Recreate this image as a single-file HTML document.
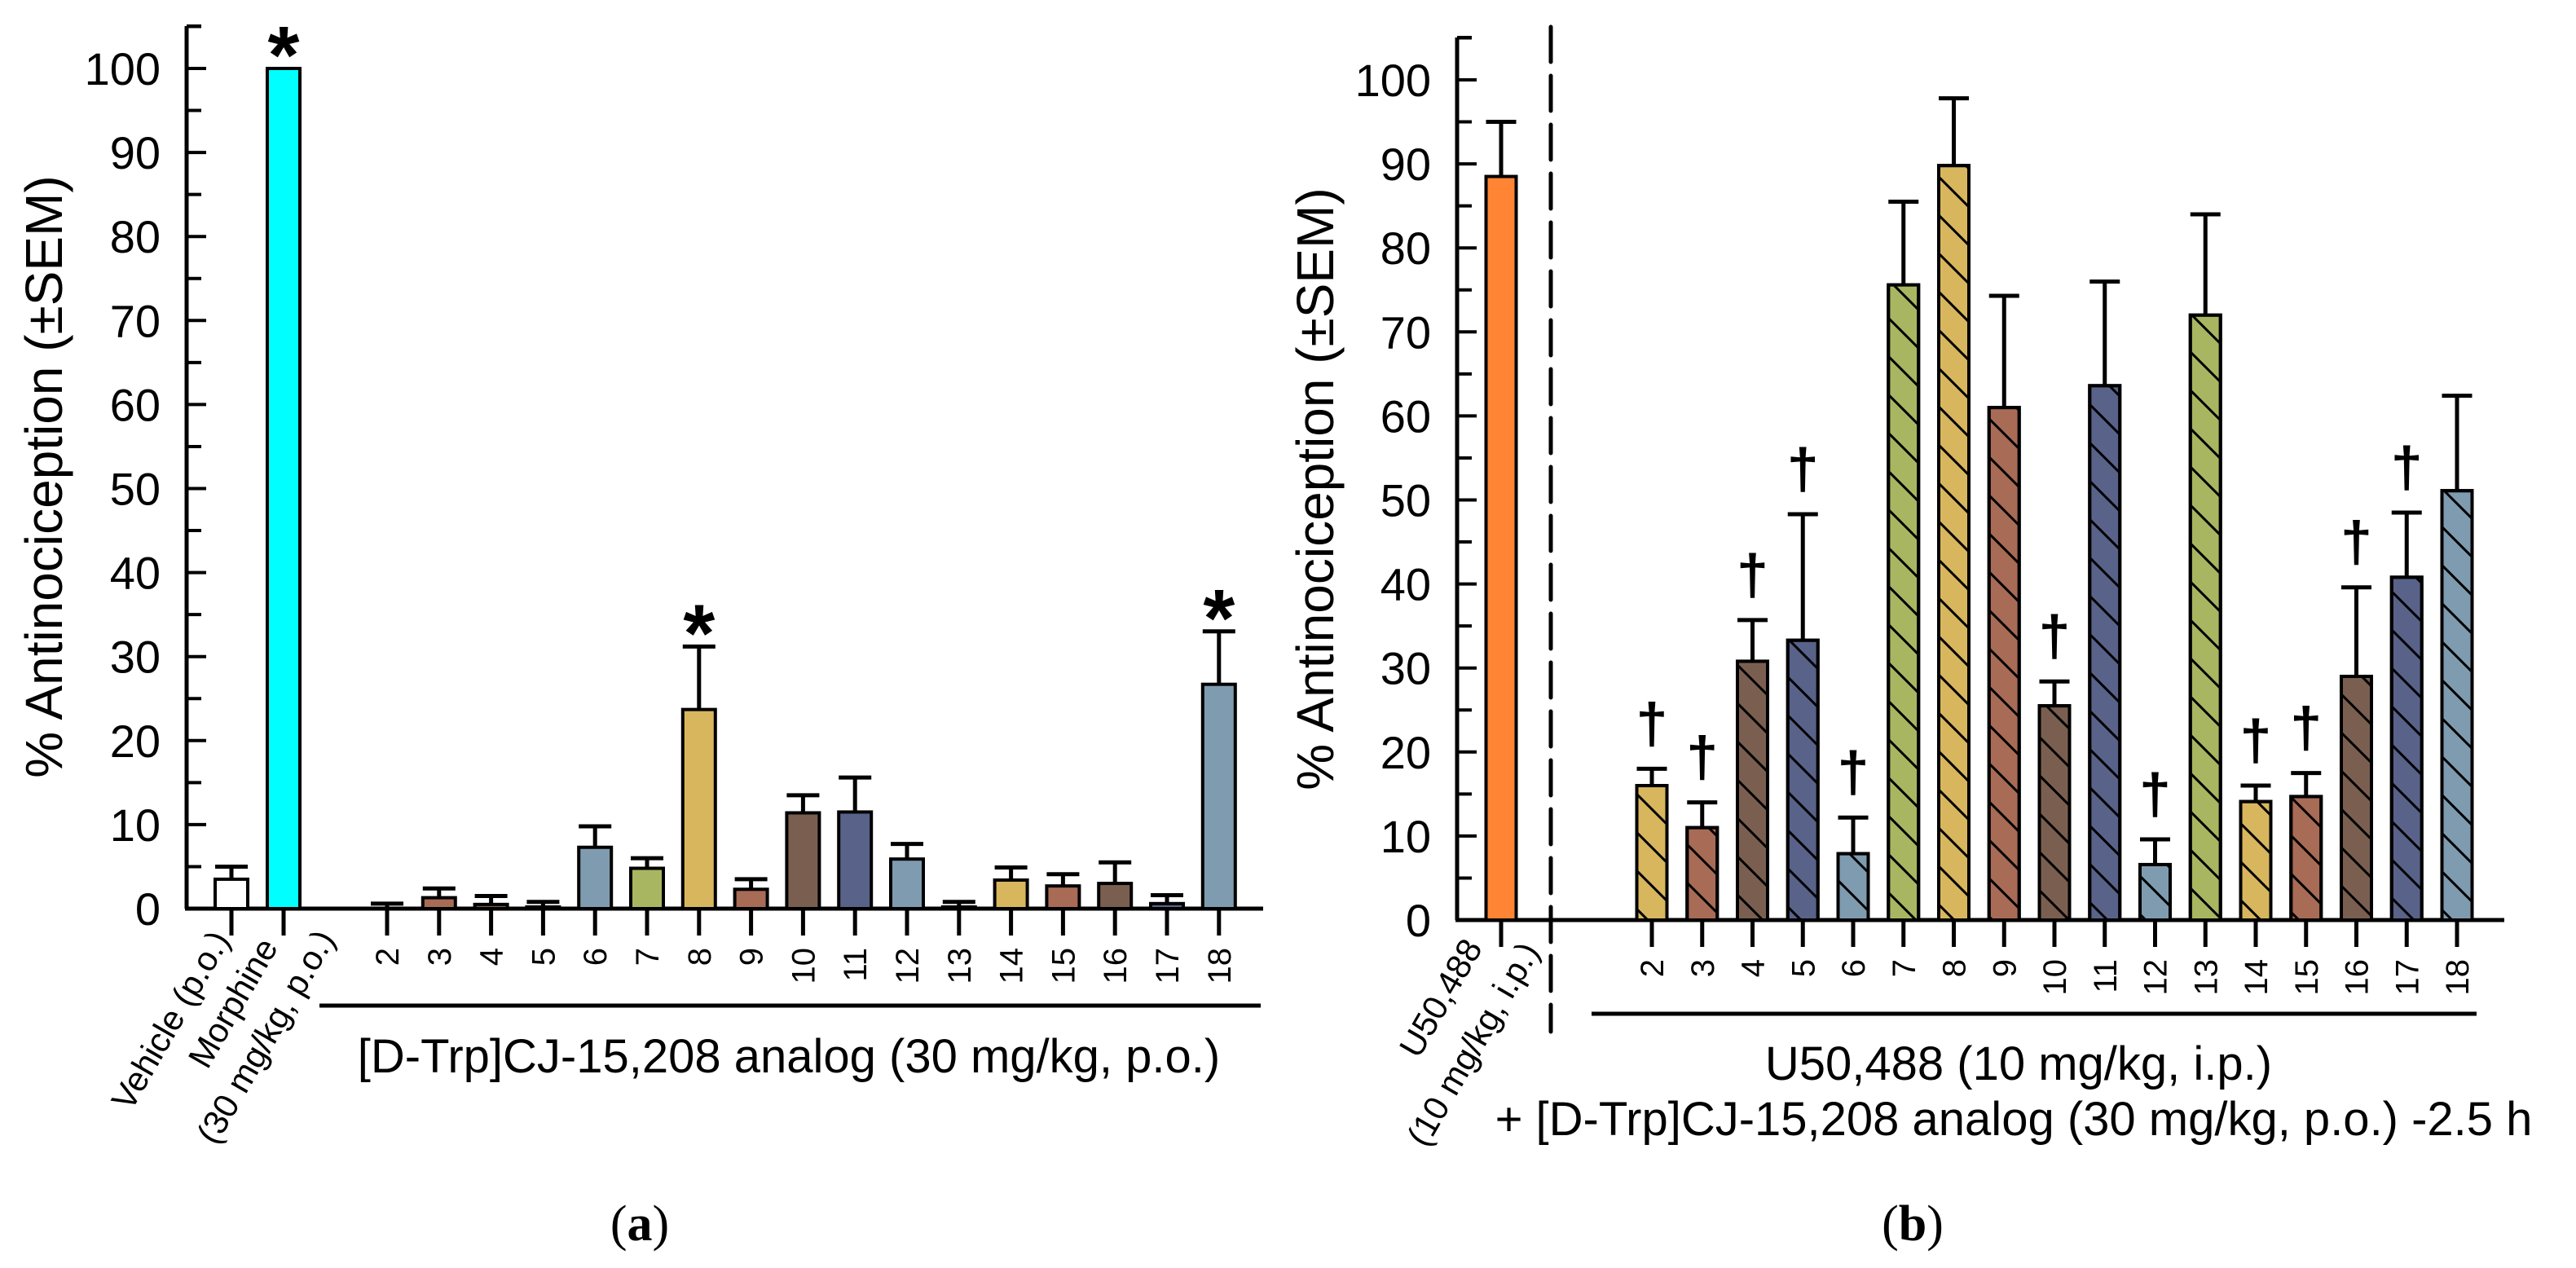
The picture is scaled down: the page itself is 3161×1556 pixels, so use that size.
<!DOCTYPE html>
<html><head><meta charset="utf-8"><style>
html,body{margin:0;padding:0;background:#fff;}
svg{display:block;font-family:"Liberation Sans",Arial,sans-serif;}
</style></head><body>
<svg id="fig" width="3161" height="1556" viewBox="0 0 3161 1556" xmlns="http://www.w3.org/2000/svg">
<defs>
<pattern id="hatch" patternUnits="userSpaceOnUse" width="47" height="47">
<line x1="-5" y1="-5" x2="52" y2="52" stroke="#000" stroke-width="3"/>
<line x1="-5" y1="42" x2="5" y2="52" stroke="#000" stroke-width="3"/>
<line x1="42" y1="-5" x2="52" y2="5" stroke="#000" stroke-width="3"/>
</pattern>
</defs>
<g id="pa"></g>
<g id="pb"></g>
</svg>
<script>
// ---- data ----
const compounds = ["2","3","4","5","6","7","8","9","10","11","12","13","14","15","16","17","18"];
const aValues = [0,1.3,0.5,0.2,7.3,4.8,23.7,2.3,11.4,11.5,5.9,0.2,3.4,2.7,3.0,0.6,26.7];
const aErrTop = [0.6,2.4,1.5,0.8,9.8,6.0,31.2,3.5,13.5,15.6,7.7,0.8,4.9,4.1,5.5,1.6,33.0];
const aStars = ["8","18"];
const aVehicle = [3.5, 5.0];
const aMorphine = [100, 100];
const bValues = [16.0,11.0,30.8,33.3,7.9,75.6,89.8,61.0,25.5,63.6,6.6,72.0,14.1,14.7,29.0,40.8,51.1];
const bErrTop = [18.0,14.0,35.7,48.3,12.2,85.5,97.8,74.3,28.4,76.0,9.6,84.0,16.0,17.5,39.6,48.5,62.4];
const bDaggers = ["2","3","4","5","6","10","12","14","15","16","17"];
const bU50 = [88.5, 95.0];
const yTicks = [0,10,20,30,40,50,60,70,80,90,100];
const palette = ["#D8B65E","#A86B56","#7A5F50","#596289","#7F9BB0","#A9B661"];

const NS="http://www.w3.org/2000/svg";
function mk(parent,tag,attrs,text){const e=document.createElementNS(NS,tag);for(const k in attrs)e.setAttribute(k,attrs[k]);if(text!==undefined)e.textContent=text;parent.appendChild(e);return e;}

function panel(g,o){
  const y=v=>o.y0-v*o.k;
  const x=i=>o.x2+i*o.dx;
  // y axis
  const ax=mk(g,'line',{x1:o.ax,y1:o.top,x2:o.ax,y2:o.y0,stroke:'#000','stroke-width':5});
  
  
  const xa=mk(g,'line',{x1:o.ax-2,y1:o.y0,x2:o.xend,y2:o.y0,stroke:'#000','stroke-width':5});
  
  
  // minor tick at top
  for(let v=5;v<=105;v+=10){const yy=y(v);if(yy<o.top-1)continue;const t=mk(g,'line',{x1:o.ax,y1:yy,x2:o.ax+18,y2:yy,stroke:'#000','stroke-width':4});
    
    }
  mk(g,'line',{x1:o.ax,y1:o.top,x2:o.ax+18,y2:o.top,stroke:'#000','stroke-width':4});
  yTicks.forEach(v=>{
    const t=mk(g,'line',{x1:o.ax,y1:y(v),x2:o.ax+24,y2:y(v),stroke:'#000','stroke-width':4});
    
    
    const l=mk(g,'text',{x:o.ax-32,y:y(v)+20,'text-anchor':'end','font-size':56},String(v));
    
    
  });
  const yt=mk(g,'text',{transform:`translate(${o.ytx},${o.yty}) rotate(-90)`,'text-anchor':'middle','font-size':64},'% Antinociception (±SEM)');
  
  
  function bar(cx,v,err,fill,hatch,name){
    const w=o.bw;
    const r=mk(g,'rect',{x:cx-w/2,y:y(v),width:w,height:Math.max(0,o.y0-y(v)),fill:fill,stroke:'#000','stroke-width':4});
    
    
    if(hatch&&v>0){const h=mk(g,'rect',{x:cx-w/2,y:y(v),width:w,height:o.y0-y(v),fill:'url(#hatch)',stroke:'#000','stroke-width':4});
      
      }
    if(err>v){
      const e=mk(g,'path',{d:`M${cx},${y(v)}V${y(err)}M${cx-w/2},${y(err)}H${cx+w/2}`,stroke:'#000','stroke-width':5,fill:'none'});
      
      
    }
    const t=mk(g,'line',{x1:cx,y1:o.y0,x2:cx,y2:o.y0+33,stroke:'#000','stroke-width':5});
    
    
  }
  compounds.forEach((c,i)=>{
    const cx=x(i);
    bar(cx,o.vals[i],o.errs[i],palette[i%6],o.hatch,'bar-'+c);
    const l=mk(g,'text',{transform:`translate(${cx+14},${o.y0+48}) rotate(-90)`,'text-anchor':'end','font-size':40},c);
    
    
    if(o.marks.includes(c)){
      if(o.hatch){const m=mk(g,'text',{x:cx,y:y(o.errs[i])-32,'text-anchor':'middle','font-size':70,'font-weight':'bold'},'†');
        
        }
      else {const m=mk(g,'text',{x:cx,y:y(o.errs[i])+18,'text-anchor':'middle','font-size':100,'font-weight':'bold'},'*');
        
        }
    }
  });
  return {y,bar};
}

// Panel a
const ga=document.getElementById('pa');
const A=panel(ga,{ax:229,top:32,y0:1115,k:10.31,x2:475,dx:63.8,xend:1550,bw:40,vals:aValues,errs:aErrTop,hatch:false,marks:aStars,ytx:76,yty:585});
A.bar(284,aVehicle[0],aVehicle[1],'#ffffff',false,'bar-vehicle');
A.bar(348,aMorphine[0],aMorphine[1],'#00FFFF',false,'bar-morphine');
{const m=mk(ga,'text',{x:348,y:A.y(aMorphine[1])+18,'text-anchor':'middle','font-size':100,'font-weight':'bold'},'*');

}
[[283,1153,'Vehicle (p.o.)','vehicle-label'],[342,1162,'Morphine','morphine-label'],[412,1152,'(30 mg/kg, p.o.)','morphine-dose-label']].forEach(d=>{
  const t=mk(ga,'text',{transform:`translate(${d[0]},${d[1]}) rotate(-60)`,'text-anchor':'end','font-size':42},d[2]);
  
  
});
{const l=mk(ga,'line',{x1:392,y1:1234,x2:1547,y2:1234,stroke:'#000','stroke-width':5});


const t=mk(ga,'text',{x:968,y:1316,'text-anchor':'middle','font-size':58},'[D-Trp]CJ-15,208 analog (30 mg/kg, p.o.)');


const c=mk(ga,'text',{x:785,y:1522,'text-anchor':'middle','font-size':62,'font-family':'Liberation Serif, serif'});


c.innerHTML='(<tspan font-weight="bold">a</tspan>)';}

// Panel b
const gb=document.getElementById('pb');
const B=panel(gb,{ax:1788,top:46,y0:1129,k:10.31,x2:2027,dx:61.75,xend:3073,bw:37,vals:bValues,errs:bErrTop,hatch:true,marks:bDaggers,ytx:1636,yty:600});
B.bar(1842,bU50[0],bU50[1],'#FF8534',false,'bar-u50488');
{const d=mk(gb,'line',{x1:1903,y1:33,x2:1903,y2:1266,stroke:'#000','stroke-width':5,'stroke-dasharray':'43 17','stroke-linecap':'round'});

}
[[1820,1163,'U50,488','u50488-label'],[1890,1167,'(10 mg/kg, i.p.)','u50488-dose-label']].forEach(d=>{
  const t=mk(gb,'text',{transform:`translate(${d[0]},${d[1]}) rotate(-60)`,'text-anchor':'end','font-size':42},d[2]);
  
  
});
{const l=mk(gb,'line',{x1:1953,y1:1244,x2:3039,y2:1244,stroke:'#000','stroke-width':5});


const t=mk(gb,'text',{x:2477,y:1325,'text-anchor':'middle','font-size':58},'U50,488 (10 mg/kg, i.p.)');


const t2=mk(gb,'text',{x:2471,y:1393,'text-anchor':'middle','font-size':58},'+ [D-Trp]CJ-15,208 analog (30 mg/kg, p.o.) -2.5 h');


const c=mk(gb,'text',{x:2347,y:1522,'text-anchor':'middle','font-size':62,'font-family':'Liberation Serif, serif'});


c.innerHTML='(<tspan font-weight="bold">b</tspan>)';}
</script>
</body></html>
